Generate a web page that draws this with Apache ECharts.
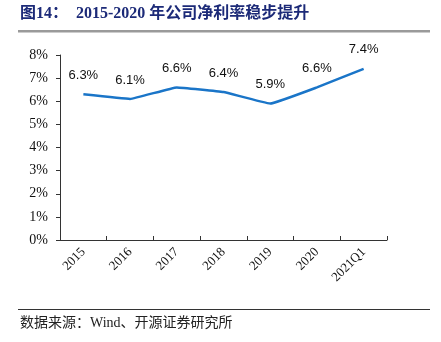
<!DOCTYPE html>
<html><head><meta charset="utf-8">
<script src="https://cdn.jsdelivr.net/npm/echarts@6/dist/echarts.min.js"></script>
<style>html,body{margin:0;padding:0;background:#fff}#c{width:441px;height:342px}</style>
</head><body><div id="c"></div>
<script>
const categories = ['2015','2016','2017','2018','2019','2020','2021Q1'];
const netMargin = [6.3, 6.1, 6.6, 6.4, 5.9, 6.6, 7.4];
const yTicks = [0,1,2,3,4,5,6,7,8];

const chart = echarts.init(document.getElementById('c'));
chart.setOption({
  animation: false,
  backgroundColor: '#fff',
  grid: {left: 60, right: 54, top: 55, bottom: 102},
  graphic: [
    {type: 'text', left: 20, top: 6, style: {text: '图14：  2015-2020 年公司净利率稳步提升', fill: '#1c2a78', font: 'bold 16px "Liberation Serif", "Noto Sans CJK SC"'}},
    {type: 'rect', shape: {x: 18, y: 30, width: 412, height: 2.5}, style: {fill: '#9a9a9a'}},
    {type: 'rect', shape: {x: 18, y: 309, width: 412, height: 1}, style: {fill: '#333'}},
    {type: 'text', left: 20, top: 316, style: {text: '数据来源：Wind、开源证券研究所', fill: '#222', font: '14px "Liberation Serif", "Noto Sans CJK SC"'}}
  ],
  xAxis: {
    type: 'category', data: categories, boundaryGap: true,
    axisLine: {lineStyle: {color: '#333', width: 1}},
    axisTick: {show: true, length: 4, inside: true, lineStyle: {color: '#333'}},
    axisLabel: {rotate: 45, color: '#111', fontFamily: 'Liberation Serif', fontSize: 13, margin: 10, interval: 0},
    splitLine: {show: false}
  },
  yAxis: {
    type: 'value', min: 0, max: 8, interval: 1,
    axisLine: {show: true, lineStyle: {color: '#333', width: 1}},
    axisTick: {show: true, length: 4, inside: false, lineStyle: {color: '#333'}},
    axisLabel: {formatter: v => yTicks.includes(v) ? v + '%' : '', color: '#111', fontFamily: 'Liberation Serif', fontSize: 14, margin: 12},
    splitLine: {show: false}
  },
  series: [{
    type: 'line', data: netMargin, smooth: 0.08, symbol: 'circle', symbolSize: 1, showSymbol: true,
    itemStyle: {color: '#1a75c8', opacity: 0},
    lineStyle: {color: '#1a75c8', width: 2.5},
    label: {show: true, position: 'top', distance: 12, formatter: p => p.value.toFixed(1) + '%', color: '#111', fontFamily: 'Liberation Sans', fontSize: 13, opacity: 1}
  }]
});
</script></body></html>
